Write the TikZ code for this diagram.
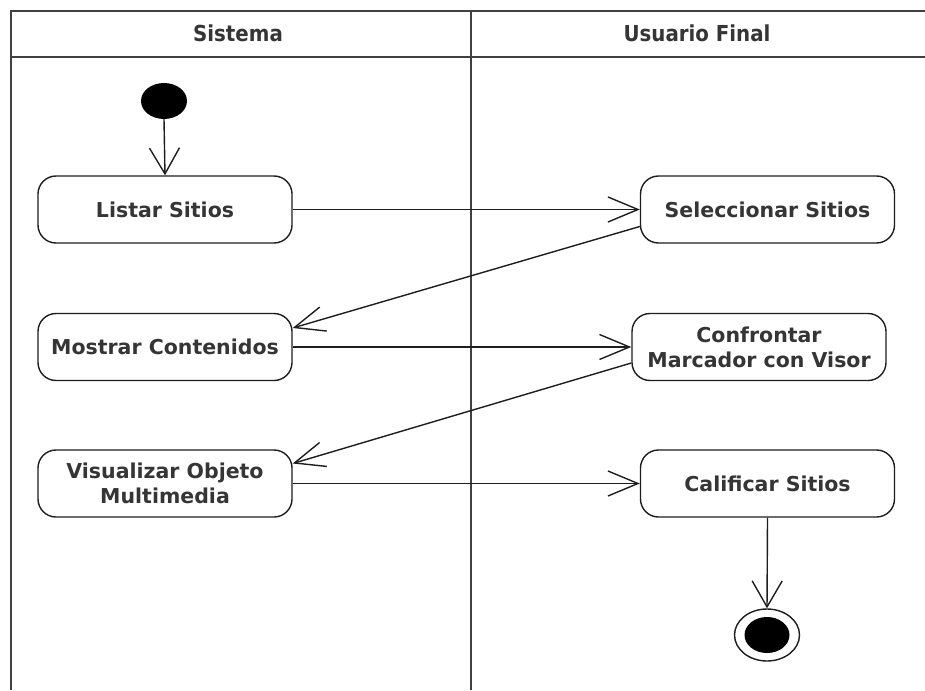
\documentclass[tikz,border=0pt]{standalone}
\usepackage{fontspec}
\setmainfont{DejaVu Sans}
\newfontfamily\lanefont{DejaVu Sans Condensed}
\usetikzlibrary{arrows.meta,shapes.geometric}
\definecolor{ink}{HTML}{1E1E1E}
\tikzset{
  action/.style={draw=ink, line width=1.4pt, rounded corners=18pt, fill=white,
    minimum width=254pt, minimum height=67pt, inner sep=2pt, align=center,
    text=ink!90, font=\bfseries\fontsize{20.5}{25}\selectfont},
  lanetitle/.style={text=ink!90, font=\lanefont\bfseries\fontsize{22}{26}\selectfont},
  flow/.style={draw=ink, line width=1.4pt, -{Straight Barb[length=30pt,width=25pt,line width=1.4pt]}},
  flowdown/.style={draw=ink, line width=1.4pt, -{Straight Barb[length=26pt,width=30pt,line width=1.4pt]}},
  lane/.style={draw=ink!85, line width=1.8pt},
}
\begin{document}
\begin{tikzpicture}[x=1pt, y=-1pt]
  \useasboundingbox (0,0) rectangle (925,690);
  \fill[white] (0,0) rectangle (925,690);

  % swimlane frame
  \draw[lane] (11,690) -- (11,11) -- (925,11);
  \draw[lane, line width=2.6pt] (11,57) -- (925,57);
  \draw[lane] (471,11) -- (471,690);
  \node[lanetitle] (l1) at (238,33) {Sistema};
  \node[lanetitle] (l2) at (697,33) {Usuario Final};

  % start and end
  \node[draw=none, fill=black, ellipse, minimum width=46pt, minimum height=36pt, inner sep=0pt] (start) at (164,101) {};
  \node[draw=ink, line width=1.4pt, ellipse, minimum width=65pt, minimum height=52pt, inner sep=0pt] (end) at (767,635) {};
  \node[fill=black, ellipse, minimum width=45pt, minimum height=36pt, inner sep=0pt] (endcore) at (end.center) {};

  % actions
  \node[action] (listar) at (165,209.5) {Listar Sitios};
  \node[action] (selec) at (767.5,209.5) {Seleccionar Sitios};
  \node[action] (mostrar) at (165,347) {Mostrar Contenidos};
  \node[action] (confr) at (759,347) {Confrontar\\Marcador con Visor};
  \node[action] (visual) at (165,483.5) {Visualizar Objeto\\Multimedia};
  \node[action] (calif) at (767.5,483.5) {Calificar Sitios};

  % transitions
  \draw[flowdown] (start.south) -- (listar.north);
  \draw[flow] (listar.east) -- (selec.west);
  \draw[flow] ([yshift=-17pt]selec.west) -- ([yshift=19pt]mostrar.east);
  \draw[flow] (mostrar.east) -- (confr.west);
  \draw[flow] ([yshift=-16pt]confr.west) -- ([yshift=20pt]visual.east);
  \draw[flow] (visual.east) -- (calif.west);
  \draw[flowdown] (calif.south) -- (end.north);
\end{tikzpicture}
\end{document}
